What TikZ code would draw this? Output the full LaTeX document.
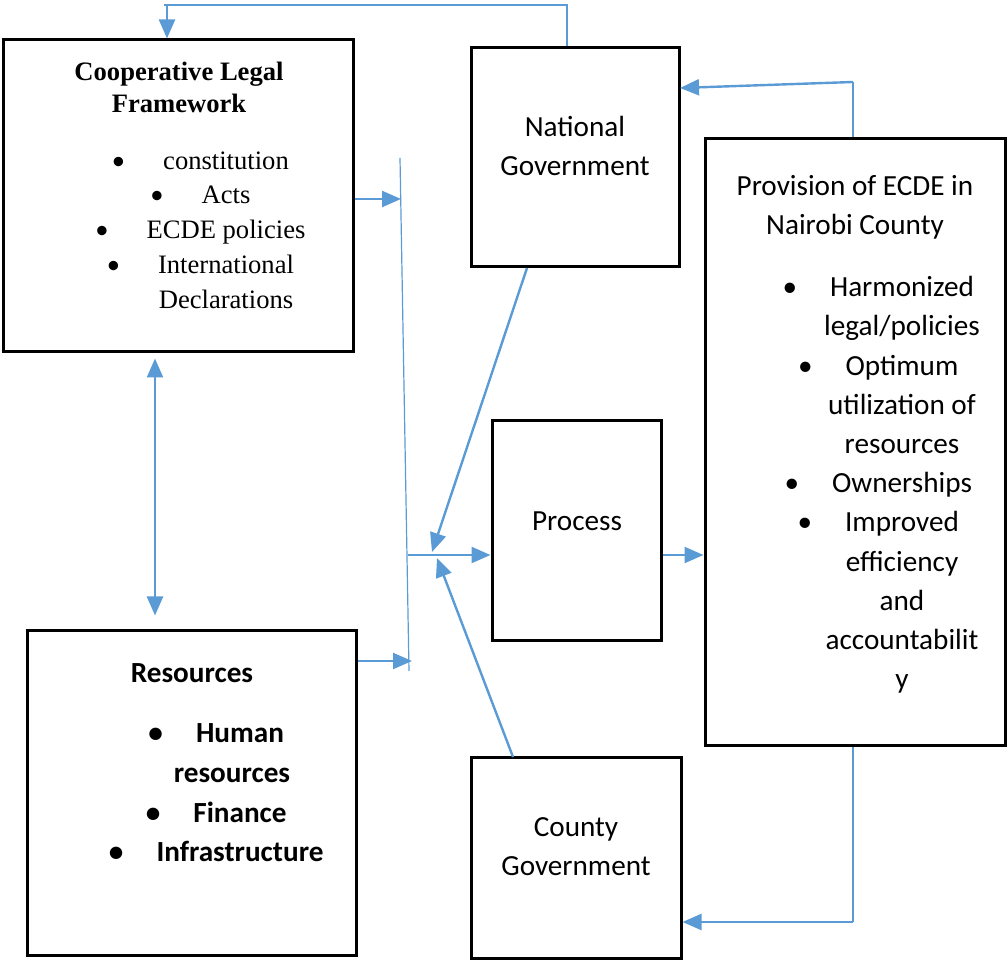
\documentclass[tikz,border=0pt]{standalone}
\usepackage{fontspec}
\setmainfont{Liberation Serif}
\newfontfamily\calibri{Carlito}
\usetikzlibrary{arrows.meta,positioning}
\definecolor{linkblue}{HTML}{5B9BD5}
\newcommand{\blt}{\llap{{\calibri\textbullet}\hspace{19pt}}}

\begin{document}
\begin{tikzpicture}[x=0.5pt,y=-0.5pt,>={Triangle[length=9.5pt,width=8pt]},
  box/.style={draw,line width=1.5pt,inner sep=0pt},
  link/.style={->,color=linkblue,line width=1.2pt},
  rule/.style={draw=linkblue,line width=0.6pt},
  times/.style={font=\fontsize{13.3}{17.4}\selectfont,align=center,inner sep=0pt},
  calib/.style={font=\calibri\fontsize{14.6}{19.6}\selectfont,align=center,inner sep=0pt}]

	\useasboundingbox (0,0) rectangle (1007,961);

	% boxes
	\node[box,minimum width=175pt,minimum height=156pt]   (legal)     at (178,196)   {};
	\node[box,minimum width=104pt,minimum height=109.5pt] (natgov)    at (575,157.5) {};
	\node[box,minimum width=84.5pt,minimum height=110pt]  (process)   at (576.5,531) {};
	\node[box,minimum width=150pt,minimum height=303.5pt] (provision) at (855,442.5) {};
	\node[box,minimum width=164.5pt,minimum height=162pt] (resources) at (191.5,793) {};
	\node[box,minimum width=105pt,minimum height=100pt]   (countygov) at (576,858)   {};

	% texts
	\node[times,font=\fontsize{13.3}{16}\selectfont\bfseries] (legalhead) at (179,87) {Cooperative Legal\\Framework};
	\node[times] (legallist) at (226,230) {\blt constitution\\
		\blt Acts\\
		\blt ECDE policies\\
		\blt International\\
		Declarations};
	\node[calib] (natgovtext) at (575,146) {National\\Government};
	\node[calib] (processtext) at (577,521) {Process};
	\node[calib] (provhead) at (855,207) {Provision of ECDE in\\Nairobi County};
	\node[calib] (provlist) at (902,485) {\llap{\textbullet\hspace{16.5pt}}Harmonized\\
		legal/policies\\
		\llap{\textbullet\hspace{16.5pt}}Optimum\\
		utilization of\\
		resources\\
		\llap{\textbullet\hspace{16.5pt}}Ownerships\\
		\llap{\textbullet\hspace{16.5pt}}Improved\\
		efficiency\\
		and\\
		accountabilit\\
		y};
	\node[calib,font=\calibri\fontsize{14.6}{19.6}\selectfont\bfseries] (reshead) at (192,673) {Resources};
	\node[calib,font=\calibri\fontsize{14.6}{19.8}\selectfont\bfseries] (reslist) at (240,793) {\llap{\textbullet\hspace{16.5pt}}Human\\
		resources\kern8pt\\
		\llap{\textbullet\hspace{16.5pt}}Finance\\
		\llap{\textbullet\hspace{16.5pt}}Infrastructure};
	\node[calib] (countytext) at (576,847) {County\\Government};

	% connector points
	\coordinate (topR)   at (567,5);
	\coordinate (topL)   at (164,5);
	\coordinate (topA)   at (167,6);
	\coordinate (barT)   at (400,158);
	\coordinate (barB)   at (409,671);
	\coordinate (legalIn) at (401,199);
	\coordinate (resIn)  at (412,661);
	\coordinate (barOut) at (408,555);
	\coordinate (ngFoot) at (527,268);
	\coordinate (cgHead) at (513,757);
	\coordinate (tipN)   at (432,552);
	\coordinate (tipC)   at (437,558);
	\coordinate (fbTop)  at (853,82);
	\coordinate (ngIn)   at (680,88);
	\coordinate (fbBot)  at (853,922);
	\coordinate (dbl)    at (155,0);

	\draw[rule] (natgov.north -| topR) -- (topR) -- (topL);
	\draw[rule] (barT) -- (barB);
	\draw[rule] (provision.north -| fbTop) -- (fbTop);
	\draw[rule] (provision.south -| fbBot) -- (fbBot);

	\path[link] (topA) edge (legal.north -| topA);
	\path[link] (legal.east |- legalIn) edge (legalIn);
	\path[link] (resources.east |- resIn) edge (resIn);
	\path[link] (barOut) edge (process.west |- barOut);
	\path[link] (ngFoot) edge (tipN);
	\path[link] (cgHead) edge (tipC);
	\path[link] (process.east |- barOut) edge (provision.west |- barOut);
	\path[link] (fbTop) edge (ngIn);
	\path[link] (fbBot) edge (countygov.east |- fbBot);
	\path[link,<->,shorten <=2.5pt,shorten >=7pt] (legal.south -| dbl) edge (resources.north -| dbl);
\end{tikzpicture}
\end{document}
